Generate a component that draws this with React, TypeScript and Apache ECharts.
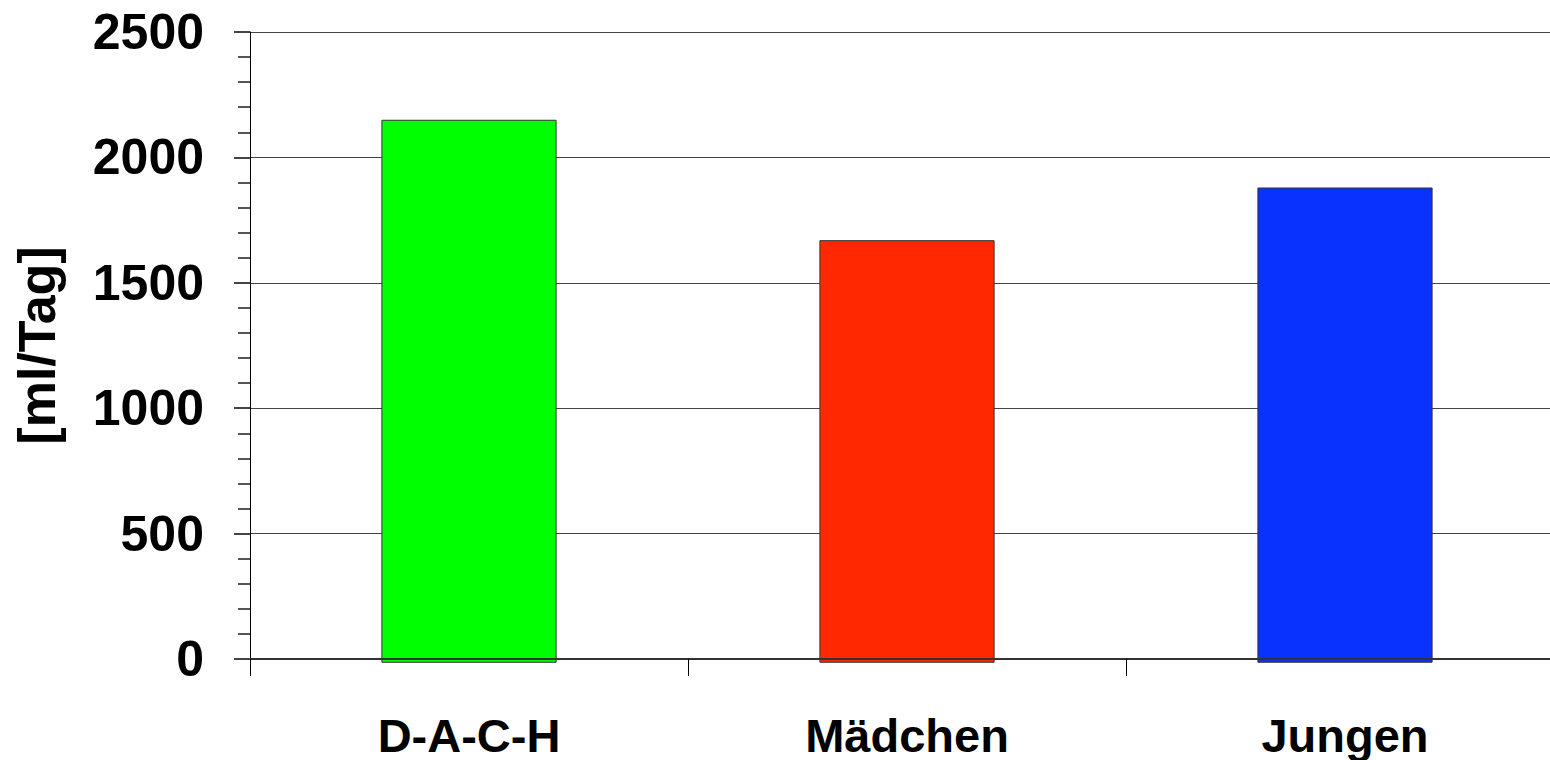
import React, { useEffect, useRef } from "react";
import * as echarts from "echarts";

const categories = ["D-A-C-H", "Mädchen", "Jungen"];
const values = [2150, 1670, 1880];
const belowZero = [-15, -15, -15];
const barColors = ["#00ff00", "#ff2800", "#0a32ff"];
const yTicks = { min: 0, max: 2500, interval: 500 };
const yName = "[ml/Tag]";

export default function App() {
  const ref = useRef<HTMLDivElement>(null);
  useEffect(() => {
    if (!ref.current) return;
    const chart = echarts.init(ref.current, null, { renderer: "svg" });
    const font = "'Liberation Sans', Arial, sans-serif";
    chart.setOption({
      animation: false,
      backgroundColor: "#ffffff",
      grid: {
        left: 250,
        top: 32,
        width: 1314,
        height: 627,
        containLabel: false,
        outerBoundsMode: "none",
      },
      xAxis: {
        type: "category",
        data: categories,
        axisLine: { onZero: true, lineStyle: { color: "#333333", width: 2 } },
        axisTick: { show: true, alignWithLabel: false, length: 17, lineStyle: { color: "#000000", width: 1 } },
        axisLabel: {
          margin: 56,
          color: "#000000",
          fontSize: 47,
          lineHeight: 40,
          fontWeight: "bold",
          fontFamily: font,
        },
        splitLine: { show: false },
      },
      yAxis: {
        type: "value",
        min: yTicks.min,
        max: yTicks.max,
        interval: yTicks.interval,
        name: yName,
        nameLocation: "middle",
        nameGap: 187,
        nameTextStyle: { color: "#000000", fontSize: 52, fontWeight: "bold", fontFamily: font },
        axisLine: { show: true, lineStyle: { color: "#000000", width: 1 } },
        axisTick: { show: true, length: 16, lineStyle: { color: "#444444", width: 2 } },
        minorTick: { show: true, splitNumber: 5, length: 12, lineStyle: { color: "#555555", width: 2 } },
        axisLabel: {
          margin: 46,
          color: "#000000",
          fontSize: 50,
          fontWeight: "bold",
          fontFamily: font,
          formatter: (v: number) => String(v),
        },
        splitLine: { show: true, lineStyle: { color: "#444444", width: 1 } },
      },
      series: [
        {
          type: "bar",
          stack: "total",
          barWidth: "40%",
          clip: false,
          data: values.map((v, i) => ({
            value: v,
            itemStyle: { color: barColors[i], borderColor: "#333333", borderWidth: 1 },
          })),
        },
        {
          type: "bar",
          stack: "total",
          barWidth: "40%",
          clip: false,
          data: belowZero.map((v, i) => ({
            value: v,
            itemStyle: { color: barColors[i], borderColor: "#333333", borderWidth: 1 },
          })),
        },
      ],
    });
    return () => chart.dispose();
  }, []);
  return (
    <div style={{ position: "fixed", left: 0, top: 0, width: 1550, height: 760, overflow: "hidden", background: "#fff" }}>
      <div ref={ref} style={{ width: 1580, height: 760 }} />
    </div>
  );
}
